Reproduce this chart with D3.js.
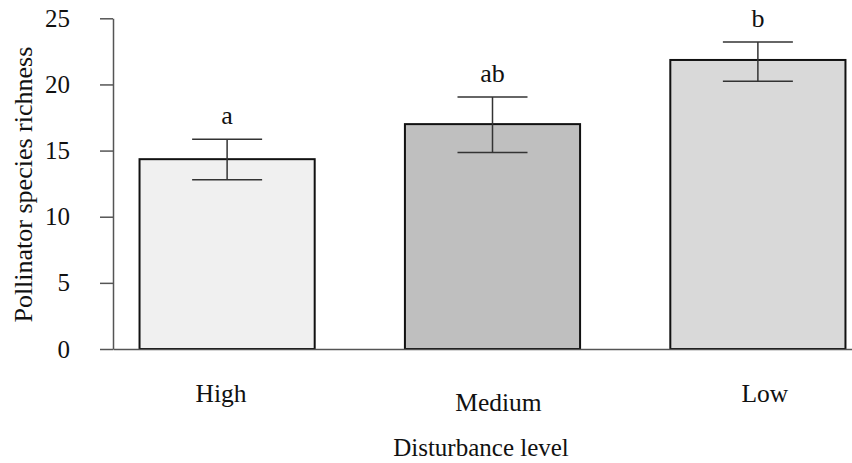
<!DOCTYPE html>
<html>
<head>
<meta charset="utf-8">
<script src="https://cdn.jsdelivr.net/npm/d3@7"></script>
<style>
  html, body { margin: 0; padding: 0; background: #fff; }
  svg { display: block; }
  text { font-family: "Liberation Serif", "Times New Roman", serif; fill: #111; }
</style>
</head>
<body>
<svg id="chart" width="852" height="463"></svg>
<script>
// Mean pollinator species richness per disturbance level, with error bars
const categories = ["High", "Medium", "Low"];
const means = [14.35, 17.0, 21.85];
const errLow = [12.8, 14.85, 20.25];
const errHigh = [15.85, 19.05, 23.2];
const groupLetters = ["a", "ab", "b"];
const yTicks = [0, 5, 10, 15, 20, 25];

const fills = ["#f0f0f0", "#bfbfbf", "#d9d9d9"];
// small horizontal / vertical nudges of the category labels
const labelDx = [-6, 6, 7];
const labelDy = [0, 9, 0];

const svg = d3.select("#chart");
const axisX = 113, baseY = 349, topY = 18.3;

const x = d3.scaleBand()
  .domain(categories)
  .range([axisX, 872])
  .paddingInner(0.34)
  .paddingOuter(0.1);

const y = d3.scaleLinear().domain([0, 25]).range([baseY, topY]);

// y axis
const yAxis = svg.append("g")
  .attr("transform", `translate(${axisX},0)`)
  .call(d3.axisLeft(y).tickValues(yTicks).tickSize(13).tickPadding(30).tickSizeOuter(0));
yAxis.select(".domain").attr("stroke", "#555").attr("stroke-width", 1.5);
yAxis.selectAll(".tick line").attr("stroke", "#555").attr("stroke-width", 1.5);
yAxis.selectAll(".tick text")
  .attr("font-family", "Liberation Serif, serif")
  .attr("font-size", 25)
  .attr("fill", "#111");

// bars
svg.append("g").selectAll("rect")
  .data(categories)
  .join("rect")
  .attr("x", d => x(d))
  .attr("y", (d, i) => y(means[i]))
  .attr("width", x.bandwidth())
  .attr("height", (d, i) => y(0) - y(means[i]))
  .attr("fill", (d, i) => fills[i])
  .attr("stroke", "#111")
  .attr("stroke-width", 2);

// x axis line
const xAxis = svg.append("g")
  .attr("transform", `translate(0,${baseY})`)
  .call(d3.axisBottom(x).tickSize(0).tickFormat(""));
xAxis.select(".domain").attr("stroke", "#555").attr("stroke-width", 1.5);

// error bars
const capHalf = 35;
const eb = svg.append("g").selectAll("g")
  .data(categories)
  .join("g")
  .attr("stroke", "#333")
  .attr("stroke-width", 1.5);
eb.append("line")
  .attr("x1", d => x(d) + x.bandwidth() / 2)
  .attr("x2", d => x(d) + x.bandwidth() / 2)
  .attr("y1", (d, i) => y(errLow[i]))
  .attr("y2", (d, i) => y(errHigh[i]));
eb.append("line")
  .attr("x1", d => x(d) + x.bandwidth() / 2 - capHalf)
  .attr("x2", d => x(d) + x.bandwidth() / 2 + capHalf)
  .attr("y1", (d, i) => y(errHigh[i]))
  .attr("y2", (d, i) => y(errHigh[i]));
eb.append("line")
  .attr("x1", d => x(d) + x.bandwidth() / 2 - capHalf)
  .attr("x2", d => x(d) + x.bandwidth() / 2 + capHalf)
  .attr("y1", (d, i) => y(errLow[i]))
  .attr("y2", (d, i) => y(errLow[i]));

// significance letters
svg.append("g").selectAll("text")
  .data(categories)
  .join("text")
  .attr("x", d => x(d) + x.bandwidth() / 2)
  .attr("y", (d, i) => y(errHigh[i]) - 15)
  .attr("text-anchor", "middle")
  .attr("font-size", 26)
  .text((d, i) => groupLetters[i]);

// category labels
svg.append("g").selectAll("text")
  .data(categories)
  .join("text")
  .attr("x", (d, i) => x(d) + x.bandwidth() / 2 + labelDx[i])
  .attr("y", (d, i) => 402 + labelDy[i])
  .attr("text-anchor", "middle")
  .attr("font-size", 25.5)
  .text(d => d);

// axis titles
svg.append("text")
  .attr("x", 481)
  .attr("y", 456)
  .attr("text-anchor", "middle")
  .attr("font-size", 25)
  .text("Disturbance level");

svg.append("text")
  .attr("transform", `translate(32,${(baseY + topY) / 2 + 1}) rotate(-90)`)
  .attr("text-anchor", "middle")
  .attr("font-size", 26)
  .text("Pollinator species richness");
</script>
</body>
</html>
